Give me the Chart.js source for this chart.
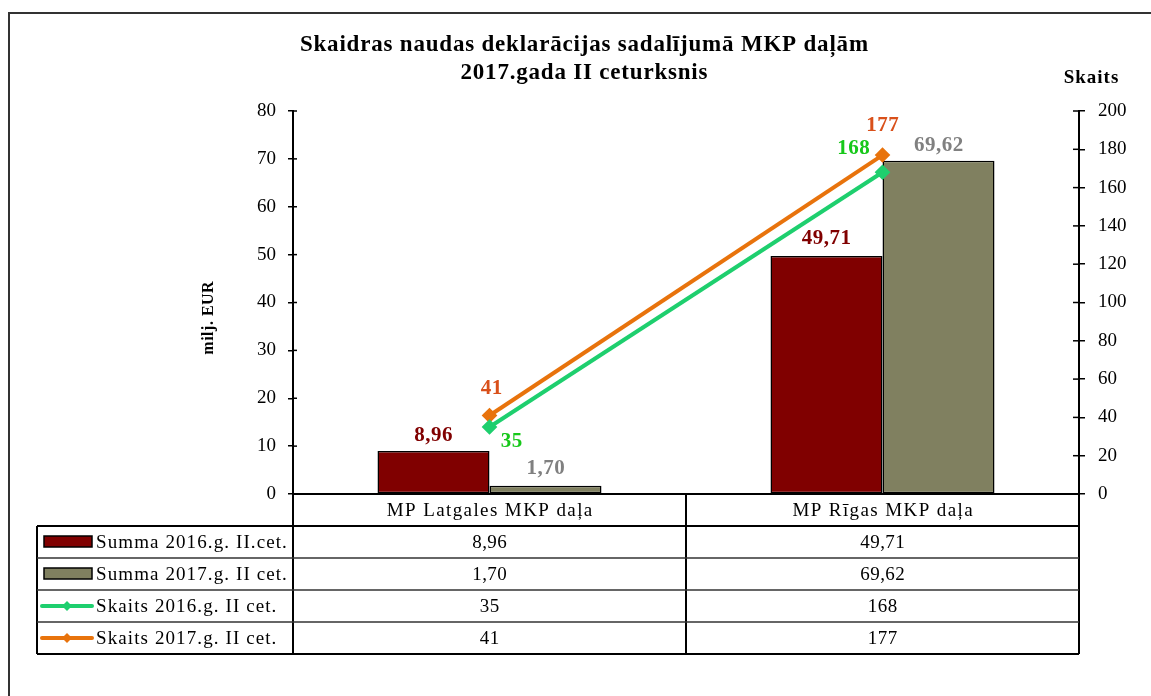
<!DOCTYPE html>
<html>
<head>
<meta charset="utf-8">
<script src="https://cdn.jsdelivr.net/npm/chart.js@4"></script>
<style>
  html, body { margin: 0; padding: 0; background: #fff; }
  canvas { display: block; }
</style>
</head>
<body>
<canvas id="chart" width="1151" height="696"></canvas>
<script>
const categories = ["MP Latgales MKP daļa", "MP Rīgas MKP daļa"];
const seriesNames = ["Summa 2016.g. II.cet.", "Summa 2017.g. II cet.", "Skaits 2016.g. II cet.", "Skaits 2017.g. II cet."];
const summa2016 = [8.96, 49.71];
const summa2017 = [1.70, 69.62];
const skaits2016 = [35, 168];
const skaits2017 = [41, 177];
const titleLines = ["Skaidras naudas deklarācijas sadalījumā MKP daļām", "2017.gada II ceturksnis"];

const SERIF = "'Liberation Serif', 'Times New Roman', serif";
Chart.defaults.font.family = SERIF;
Chart.defaults.color = "#000";

function fmt(v, i) {
  return i < 2 ? v.toFixed(2).replace(".", ",") : String(v);
}

const colors = ["#800000", "#808060", "#1ecf6e", "#e8730c"];
const labelColors = ["#800000", "#808080", "#17c81a", "#d9501a"];

// text with a bit of letter spacing, like the original export
function spaced(ctx, str, x, y, sp) {
  ctx.letterSpacing = sp + "px";
  const dx = ctx.textAlign === "center" ? sp / 2 : 0;
  ctx.fillText(str, x + dx, y);
  ctx.letterSpacing = "0px";
}

// title, labels, crossing ticks and the data table under the plot
const extras = {
  id: "extras",
  afterDraw(chart) {
    const ctx = chart.ctx;
    const area = chart.chartArea;
    const xs = chart.scales.x;
    const yl = chart.scales.y;
    const yr = chart.scales.y1;
    ctx.save();

    // outer frame (only left and top visible)
    ctx.strokeStyle = "#333";
    ctx.lineWidth = 2;
    ctx.beginPath();
    ctx.moveTo(9, 696);
    ctx.lineTo(9, 13);
    ctx.lineTo(1151, 13);
    ctx.stroke();

    // title
    ctx.fillStyle = "#000";
    ctx.textAlign = "center";
    ctx.textBaseline = "middle";
    ctx.font = "bold 23px " + SERIF;
    spaced(ctx, titleLines[0], 584, 45, 0.8);
    spaced(ctx, titleLines[1], 584, 73, 0.8);

    // axis titles
    ctx.font = "bold 19px " + SERIF;
    spaced(ctx, "Skaits", 1091, 78, 1);
    ctx.save();
    ctx.translate(209, 318);
    ctx.rotate(-Math.PI / 2);
    ctx.font = "bold 16px " + SERIF;
    spaced(ctx, "milj. EUR", 0, 0, 0.5);
    ctx.restore();

    // inner half of the tick marks
    ctx.strokeStyle = "#000";
    ctx.lineWidth = 1.5;
    yl.ticks.forEach(t => {
      const y = yl.getPixelForValue(t.value);
      ctx.beginPath(); ctx.moveTo(area.left, y); ctx.lineTo(area.left + 4, y); ctx.stroke();
    });
    yr.ticks.forEach(t => {
      const y = yr.getPixelForValue(t.value);
      ctx.beginPath(); ctx.moveTo(area.right - 6, y); ctx.lineTo(area.right, y); ctx.stroke();
    });

    // data labels
    ctx.font = "bold 21px " + SERIF;
    const offsets = [
      [[0, -16], [0, -17]],
      [[0, -17], [0, -15]],
      [[22, 15], [-29, -24]],
      [[2, -27], [0, -29]]
    ];
    const allData = [summa2016, summa2017, skaits2016, skaits2017];
    allData.forEach((arr, di) => {
      const meta = chart.getDatasetMeta(di);
      ctx.fillStyle = labelColors[di];
      meta.data.forEach((el, j) => {
        const o = offsets[di][j];
        spaced(ctx, fmt(arr[j], di), el.x + o[0], el.y + o[1], 0.5);
      });
    });

    // data table
    const tLeft = 37, rowH = 32;
    const top = area.bottom;
    const mid = (xs.getPixelForValue(0) + xs.getPixelForValue(1)) / 2;
    const bottom = top + rowH * 5;
    ctx.strokeStyle = "#000";
    ctx.lineWidth = 2;
    [area.left, mid, area.right].forEach(x => {
      ctx.beginPath(); ctx.moveTo(x, top); ctx.lineTo(x, bottom); ctx.stroke();
    });
    ctx.beginPath(); ctx.moveTo(tLeft, top + rowH); ctx.lineTo(tLeft, bottom); ctx.stroke();
    for (let r = 1; r <= 5; r++) {
      const y = top + rowH * r;
      ctx.lineWidth = (r === 1 || r === 5) ? 2 : 1.5;
      ctx.strokeStyle = (r === 1 || r === 5) ? "#000" : "#333";
      ctx.beginPath(); ctx.moveTo(tLeft, y); ctx.lineTo(area.right, y); ctx.stroke();
    }

    // category names in the header row
    ctx.fillStyle = "#000";
    ctx.font = "19px " + SERIF;
    ctx.textAlign = "center";
    categories.forEach((c, j) => {
      spaced(ctx, c, xs.getPixelForValue(j), top + rowH / 2 + 1, 1.4);
    });

    allData.forEach((arr, di) => {
      const cy = top + rowH * (di + 1) + rowH / 2;
      // legend key
      if (di < 2) {
        ctx.fillStyle = colors[di];
        ctx.fillRect(44, cy - 6, 48, 11);
        ctx.strokeStyle = "#000";
        ctx.lineWidth = 1.5;
        ctx.strokeRect(44, cy - 6, 48, 11);
      } else {
        ctx.strokeStyle = colors[di];
        ctx.fillStyle = colors[di];
        ctx.lineWidth = 4;
        ctx.lineCap = "round";
        ctx.beginPath(); ctx.moveTo(42, cy); ctx.lineTo(92, cy); ctx.stroke();
        ctx.lineCap = "butt";
        ctx.beginPath();
        ctx.moveTo(67, cy - 5); ctx.lineTo(72, cy); ctx.lineTo(67, cy + 5); ctx.lineTo(62, cy);
        ctx.closePath(); ctx.fill();
      }
      ctx.fillStyle = "#000";
      ctx.textAlign = "left";
      spaced(ctx, seriesNames[di], 96, cy + 1, 1.1);
      ctx.textAlign = "center";
      arr.forEach((v, j) => {
        spaced(ctx, fmt(v, di), xs.getPixelForValue(j), cy + 1, 0.4);
      });
    });

    ctx.restore();
  }
};

new Chart(document.getElementById("chart"), {
  type: "bar",
  data: {
    labels: categories,
    datasets: [
      { label: seriesNames[0], data: summa2016, backgroundColor: colors[0], borderColor: "#000", borderWidth: 1.5, borderSkipped: false, yAxisID: "y", order: 2 },
      { label: seriesNames[1], data: summa2017, backgroundColor: colors[1], borderColor: "#000", borderWidth: 1.5, borderSkipped: false, yAxisID: "y", order: 2 },
      { type: "line", label: seriesNames[2], data: skaits2016, borderColor: colors[2], backgroundColor: colors[2], borderWidth: 4, pointStyle: "rectRot", pointRadius: 5, yAxisID: "y1", order: 1 },
      { type: "line", label: seriesNames[3], data: skaits2017, borderColor: colors[3], backgroundColor: colors[3], borderWidth: 4, pointStyle: "rectRot", pointRadius: 5, yAxisID: "y1", order: 1 }
    ]
  },
  options: {
    responsive: false,
    animation: false,
    layout: { padding: { top: 111, bottom: 170, left: 0, right: 0 } },
    datasets: { bar: { categoryPercentage: 0.57, barPercentage: 1.0 } },
    plugins: { legend: { display: false }, title: { display: false }, tooltip: { enabled: false } },
    scales: {
      x: {
        grid: { display: false },
        border: { display: true, color: "#000", width: 2 },
        ticks: { display: false },
        afterFit: s => { s.height = 32; }
      },
      y: {
        position: "left",
        min: 0, max: 80,
        ticks: { stepSize: 10, font: { size: 19 }, color: "#000", padding: 12 },
        grid: { drawOnChartArea: false, color: "#000", tickLength: 5, lineWidth: 1.5 },
        border: { display: true, color: "#000", width: 2 },
        afterFit: s => { s.width = 293; }
      },
      y1: {
        position: "right",
        min: 0, max: 200,
        ticks: { stepSize: 20, font: { size: 19 }, color: "#000", padding: 13 },
        grid: { drawOnChartArea: false, color: "#000", tickLength: 6, lineWidth: 1.5 },
        border: { display: true, color: "#000", width: 2 },
        afterFit: s => { s.width = 72; }
      }
    }
  },
  plugins: [extras]
});
</script>
</body>
</html>
